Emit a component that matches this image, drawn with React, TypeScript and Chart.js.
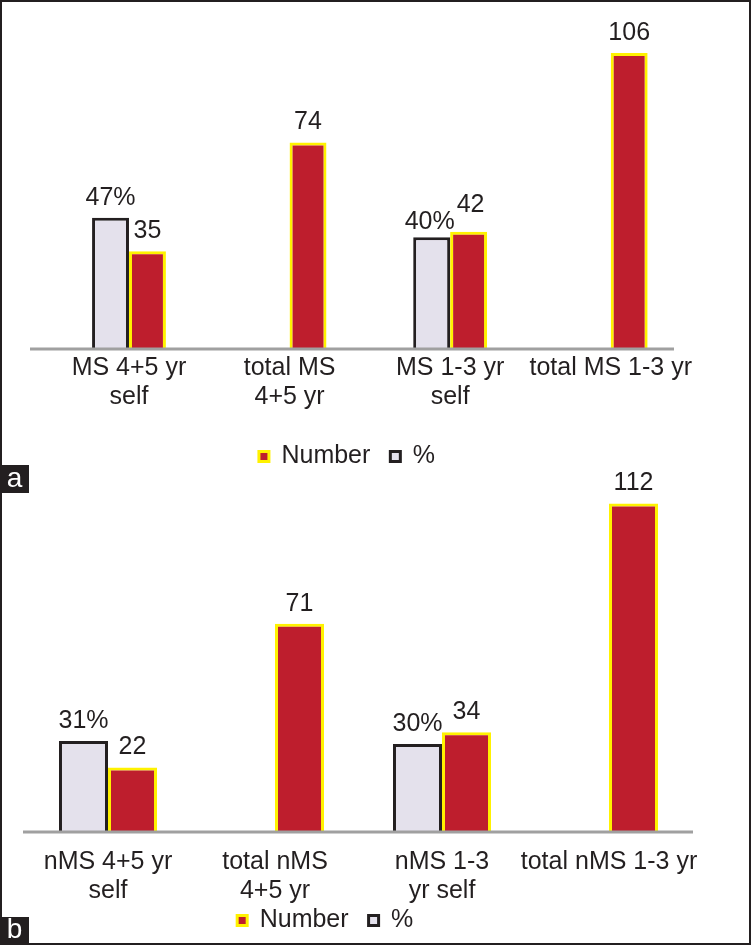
import React, { useEffect, useRef } from "react";
import { Chart, registerables } from "chart.js";

Chart.register(...registerables);

// ---- data ----
const categoriesA = [["MS 4+5 yr", "self"], ["total MS", "4+5 yr"], ["MS 1-3 yr", "self"], ["total MS 1-3 yr"]];
const percentA = [47, null, 40, null];
const numberA = [35, 74, 42, 106];

const categoriesB = [["nMS 4+5 yr", "self"], ["total nMS", "4+5 yr"], ["nMS 1-3", "yr self"], ["total nMS 1-3 yr"]];
const percentB = [31, null, 30, null];
const numberB = [22, 71, 34, 112];

const seriesNames = ["%", "Number"];
const yMax = 120;

// ---- styles ----
const FONT = '"Liberation Sans", Arial, Helvetica, sans-serif';
const FS = 25;
const INK = "#231F20";
const RED = "#BE1E2D";
const YELLOW = "#FFF200";
const LAVENDER = "#E4E1EC";
const AXIS = "#A0A0A0";

const baselinePlugin = {
  id: "baseline",
  afterDatasetsDraw(chart: any, _args: any, opts: any) {
    const { ctx, chartArea, scales } = chart;
    const y = scales.y.getPixelForValue(0);
    ctx.save();
    ctx.strokeStyle = AXIS;
    ctx.lineWidth = 3;
    ctx.beginPath();
    ctx.moveTo(chartArea.left + (opts.extendLeft || 0), y);
    ctx.lineTo(chartArea.right + (opts.extendRight || 0), y);
    ctx.stroke();
    ctx.restore();
  },
};

// value labels above bars, nudging labels apart when two in one category collide
const valueLabelsPlugin = {
  id: "valueLabels",
  afterDatasetsDraw(chart: any, _args: any, opts: any) {
    const { ctx } = chart;
    const gap = opts.gap ?? 13;
    ctx.save();
    ctx.font = `${FS}px ${FONT}`;
    ctx.fillStyle = INK;
    ctx.textAlign = "center";
    ctx.textBaseline = "alphabetic";
    const nCat = chart.data.labels.length;
    for (let j = 0; j < nCat; j++) {
      const items: any[] = [];
      chart.data.datasets.forEach((ds: any, i: number) => {
        const v = ds.data[j];
        if (v == null) return;
        const bar = chart.getDatasetMeta(i).data[j];
        const text = String(v) + (ds.suffix || "");
        const w = ctx.measureText(text).width;
        items.push({ text, x: bar.x, top: bar.y, y: bar.y - gap, w });
      });
      if (items.length === 2) {
        const [a, b] = items[0].x <= items[1].x ? items : [items[1], items[0]];
        const collide = a.x + a.w / 2 + 3 > b.x - b.w / 2 && Math.abs(a.y - b.y) < 20;
        if (collide) {
          a.x -= 2;
          b.x += 2;
          const [low, high] = a.top >= b.top ? [a, b] : [b, a];
          low.y = low.top - 8;
          high.y = Math.min(high.y, low.y - 17);
        }
      }
      items.forEach((it) => ctx.fillText(it.text, it.x, it.y));
    }
    ctx.restore();
  },
};

type Spec = {
  labels: any[];
  percent: (number | null)[];
  number: number[];
  left: number;
  top: number;
  width: number;
  height: number;
  padding: { left: number; right: number; top: number; bottom: number };
  yAxisWidth: number;
  xAxisHeight: number;
  tickPadding: number;
  catPct: number;
  extendLeft: number;
  extendRight: number;
};

function Panel({ spec }: { spec: Spec }) {
  const ref = useRef<HTMLCanvasElement | null>(null);
  useEffect(() => {
    if (!ref.current) return;
    const chart = new Chart(ref.current, {
      type: "bar",
      data: {
        labels: spec.labels,
        datasets: [
          {
            label: seriesNames[0],
            data: spec.percent,
            backgroundColor: LAVENDER,
            borderColor: INK,
            borderWidth: 3,
            suffix: "%",
          } as any,
          {
            label: seriesNames[1],
            data: spec.number,
            backgroundColor: RED,
            borderColor: YELLOW,
            borderWidth: 3,
            suffix: "",
          } as any,
        ],
      },
      options: {
        animation: false,
        responsive: true,
        maintainAspectRatio: false,
        events: [],
        layout: { padding: spec.padding },
        datasets: {
          bar: { categoryPercentage: spec.catPct, barPercentage: 1 },
        },
        scales: {
          x: {
            grid: { display: false, drawTicks: false },
            border: { display: false },
            ticks: {
              font: { size: FS, family: FONT, lineHeight: 1.16 },
              color: INK,
              padding: spec.tickPadding,
              maxRotation: 0,
              autoSkip: false,
            },
            afterFit: (s: any) => {
              s.height = spec.xAxisHeight;
              // let two-line labels run into the legend band, as in the original
              s._computeLabelArea = () => undefined;
            },
          },
          y: {
            min: 0,
            max: yMax,
            grid: { display: false, drawTicks: false },
            border: { display: false },
            ticks: { display: false },
            afterFit: (s: any) => {
              s.width = spec.yAxisWidth;
            },
          },
        },
        plugins: {
          tooltip: { enabled: false },
          legend: {
            position: "bottom",
            reverse: true,
            labels: {
              font: { size: FS, family: FONT },
              color: INK,
              boxWidth: 10,
              boxHeight: 10,
              padding: 20,
            },
          },
          baseline: { extendLeft: spec.extendLeft, extendRight: spec.extendRight },
          valueLabels: { gap: 13 },
        } as any,
      },
      plugins: [baselinePlugin, valueLabelsPlugin],
    });
    return () => chart.destroy();
  }, []);
  return (
    <div
      style={{
        position: "absolute",
        left: spec.left,
        top: spec.top,
        width: spec.width,
        height: spec.height,
      }}
    >
      <canvas ref={ref} style={{ display: "block" }} />
    </div>
  );
}

const specA: Spec = {
  labels: categoriesA,
  percent: percentA,
  number: numberA,
  left: 0,
  top: 0,
  width: 752,
  height: 479,
  padding: { left: 3, right: 61, top: 14, bottom: 0 },
  yAxisWidth: 45.7,
  xAxisHeight: 75,
  tickPadding: 5,
  catPct: 0.46,
  extendLeft: -18.7,
  extendRight: -17,
};

const specB: Spec = {
  labels: categoriesB,
  percent: percentB,
  number: numberB,
  left: -42,
  top: 450,
  width: 794,
  height: 493,
  padding: { left: 0, right: 59.5, top: 30, bottom: 0 },
  yAxisWidth: 66.5,
  xAxisHeight: 56,
  tickPadding: 16,
  catPct: 0.587,
  extendLeft: -1.5,
  extendRight: 0.5,
};

function Tag({ text, top, height }: { text: string; top: number; height: number }) {
  return (
    <div
      style={{
        position: "absolute",
        left: 0,
        top,
        width: 29,
        height,
        background: INK,
        color: "#ffffff",
        fontFamily: FONT,
        fontSize: 28,
        lineHeight: `${height - 2}px`,
        textAlign: "center",
        zIndex: 2,
      }}
    >
      {text}
    </div>
  );
}

export default function App() {
  useEffect(() => {
    document.body.style.margin = "0";
  }, []);
  return (
    <div
      style={{
        position: "relative",
        width: 752,
        height: 945,
        overflow: "hidden",
        background: "#ffffff",
      }}
    >
      <Panel spec={specA} />
      <Panel spec={specB} />
      <Tag text="a" top={465} height={28} />
      <Tag text="b" top={917} height={26} />
      <div
        style={{
          position: "absolute",
          left: 0,
          top: 0,
          width: 751,
          height: 945,
          border: `2px solid ${INK}`,
          boxSizing: "border-box",
          pointerEvents: "none",
          zIndex: 3,
        }}
      />
    </div>
  );
}
